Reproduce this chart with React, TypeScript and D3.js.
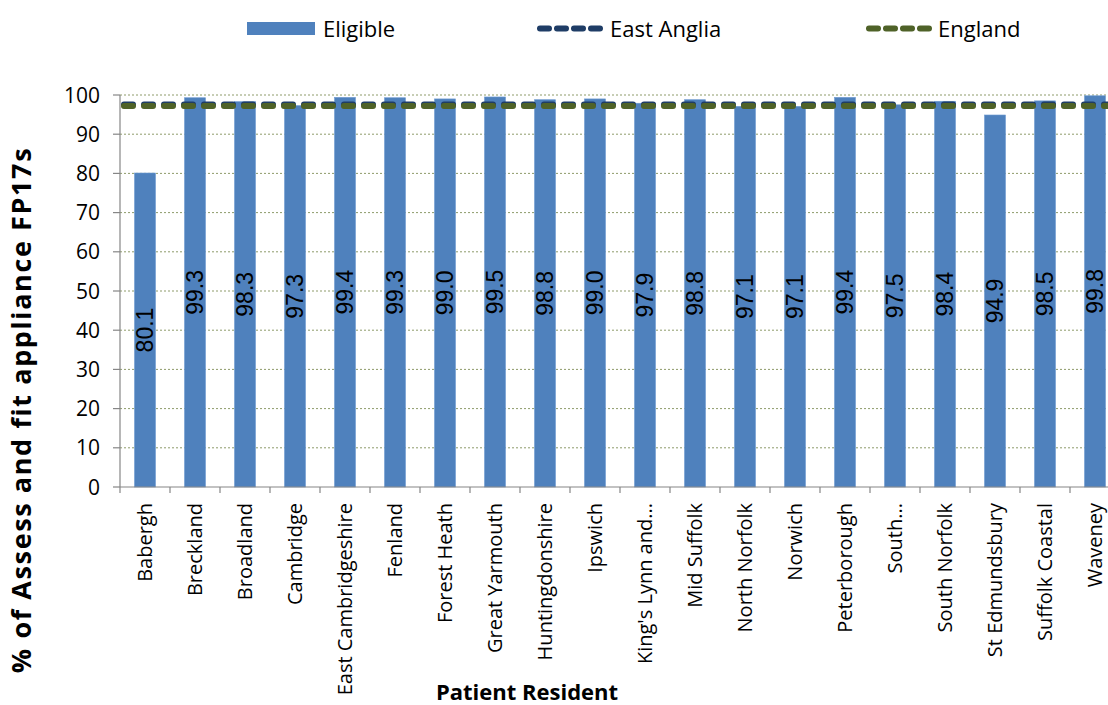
import React from "react";
import * as d3 from "d3";

const categories = [
  "Babergh", "Breckland", "Broadland", "Cambridge", "East Cambridgeshire",
  "Fenland", "Forest Heath", "Great Yarmouth", "Huntingdonshire", "Ipswich",
  "King's Lynn and...", "Mid Suffolk", "North Norfolk", "Norwich", "Peterborough",
  "South...", "South Norfolk", "St Edmundsbury", "Suffolk Coastal", "Waveney",
];
const eligible = [80.1, 99.3, 98.3, 97.3, 99.4, 99.3, 99.0, 99.5, 98.8, 99.0, 97.9, 98.8, 97.1, 97.1, 99.4, 97.5, 98.4, 94.9, 98.5, 99.8];
const eastAnglia = 97.6;
const england = 97.2;
const yTicks = [0, 10, 20, 30, 40, 50, 60, 70, 80, 90, 100];

const W = 1108, H = 705;
const left = 120, right = 1120, top = 95, bottom = 487;

const BAR = "#4F81BD";
const EA = "#1F3D66";
const ENG = "#4F6228";
const FONT = "'Open Sans', sans-serif";

export default function App() {
  const pi = 0.58;
  const x = d3.scaleBand<string>().domain(categories).range([left, right]).paddingInner(pi).paddingOuter(pi / 2);
  const y = d3.scaleLinear().domain([0, 100]).range([bottom, top]);
  const step = x.step();

  return (
    <svg width={W} height={H} style={{ position: "absolute", left: 0, top: 0, background: "#fff" }}>
      {/* gridlines */}
      {yTicks.filter(t => t > 0).map(t => (
        <line key={"g" + t} x1={left} x2={right} y1={y(t)} y2={y(t)} stroke="#8E9B6A" strokeWidth={1} strokeDasharray="2,2" />
      ))}
      {/* bars */}
      {categories.map((c, i) => (
        <rect key={c} x={x(c)} y={y(eligible[i])} width={x.bandwidth()} height={bottom - y(eligible[i])} fill={BAR} stroke="#6E9AD0" strokeWidth={0.6} />
      ))}
      {/* reference lines */}
      <line x1={left + 4} x2={right} y1={y(eastAnglia)} y2={y(eastAnglia)} stroke={EA} strokeWidth={6} strokeDasharray="9,11" strokeLinecap="round" />
      <line x1={left + 4} x2={right} y1={y(england)} y2={y(england)} stroke={ENG} strokeWidth={6} strokeDasharray="9,11" strokeLinecap="round" />
      {/* data labels */}
      {categories.map((c, i) => {
        const cx = (x(c) as number) + x.bandwidth() / 2;
        const cy = y(eligible[i] / 2);
        return (
          <text key={"l" + c} transform={`translate(${cx},${cy}) rotate(-90)`} textAnchor="middle" dy="0.36em"
            fontFamily="'Liberation Sans', Arial, sans-serif" fontSize={23} fill="#000">
            {eligible[i].toFixed(1)}
          </text>
        );
      })}
      {/* axes */}
      <line x1={left} x2={left} y1={top} y2={bottom} stroke="#868686" strokeWidth={1.2} />
      <line x1={left} x2={right} y1={bottom} y2={bottom} stroke="#868686" strokeWidth={1.2} />
      {yTicks.map(t => (
        <g key={"t" + t}>
          <line x1={left - 7} x2={left} y1={y(t)} y2={y(t)} stroke="#868686" strokeWidth={1.2} />
          <text x={100} y={y(t)} dy="0.36em" textAnchor="end" fontFamily={FONT} fontSize={21} fill="#000">{t}</text>
        </g>
      ))}
      {d3.range(categories.length + 1).map(i => (
        <line key={"xt" + i} x1={left + i * step} x2={left + i * step} y1={bottom} y2={bottom + 6} stroke="#868686" strokeWidth={1.2} />
      ))}
      {categories.map(c => {
        const cx = (x(c) as number) + x.bandwidth() / 2;
        return (
          <text key={"c" + c} transform={`translate(${cx},503) rotate(-90)`} textAnchor="end" dy="0.36em"
            fontFamily={FONT} fontSize={20} fill="#000">{c}</text>
        );
      })}
      {/* axis titles */}
      <text x={527} y={700} textAnchor="middle" fontFamily={FONT} fontWeight="bold" fontSize={22} fill="#000">Patient Resident</text>
      <text transform="translate(31,410) rotate(-90)" textAnchor="middle" fontFamily={FONT} fontWeight="bold" fontSize={27} letterSpacing={1.6} fill="#000">% of Assess and fit appliance FP17s</text>
      {/* legend */}
      <rect x={247} y={22} width={68} height={13} fill={BAR} />
      <text x={323} y={29} dy="0.36em" fontFamily={FONT} fontSize={22} fill="#000">Eligible</text>
      <line x1={540} x2={603} y1={28.5} y2={28.5} stroke={EA} strokeWidth={6} strokeDasharray="9,8" strokeLinecap="round" />
      <text x={610} y={29} dy="0.36em" fontFamily={FONT} fontSize={22} fill="#000">East Anglia</text>
      <line x1={869} x2={932} y1={28.5} y2={28.5} stroke={ENG} strokeWidth={6} strokeDasharray="9,8" strokeLinecap="round" />
      <text x={938} y={29} dy="0.36em" fontFamily={FONT} fontSize={22} fill="#000">England</text>
    </svg>
  );
}
